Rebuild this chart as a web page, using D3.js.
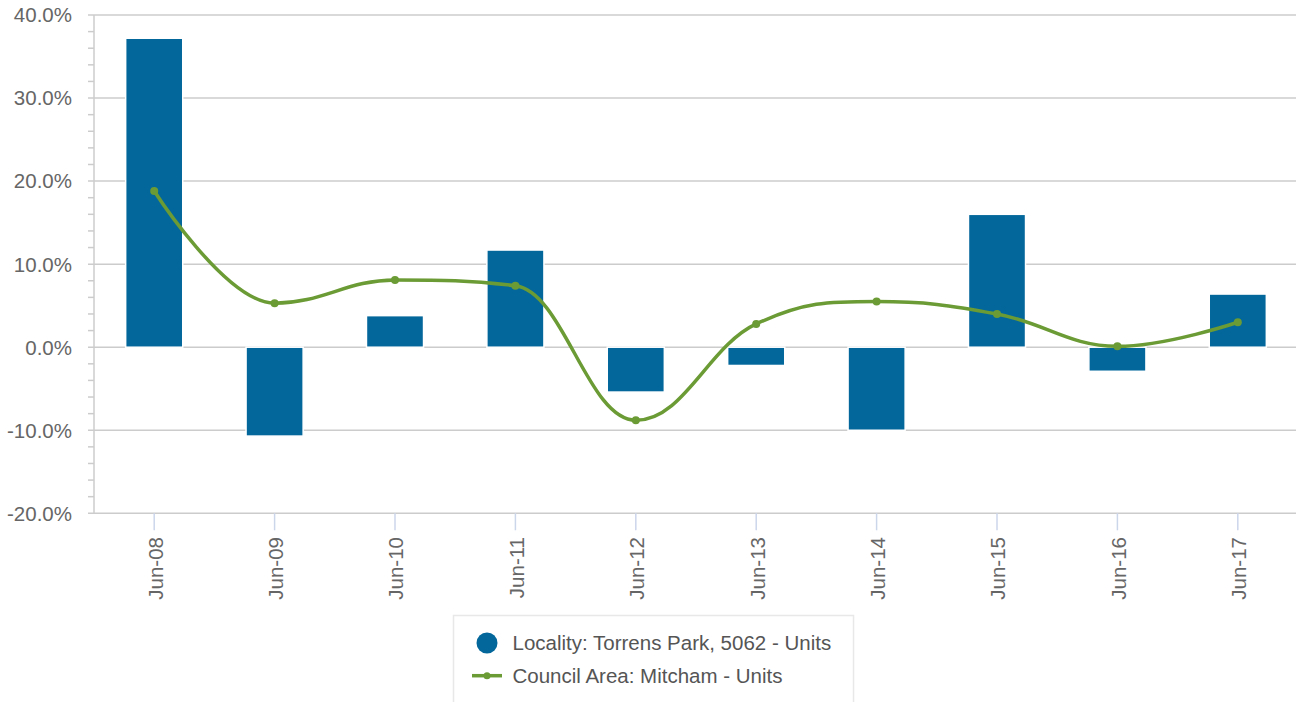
<!DOCTYPE html>
<html>
<head>
<meta charset="utf-8">
<script src="https://cdn.jsdelivr.net/npm/d3@7"></script>
<style>
  html, body { margin: 0; padding: 0; background: #fff; }
  svg { display: block; font-family: "Liberation Sans", Arial, sans-serif; }
</style>
</head>
<body>
<svg id="chart" width="1296" height="702"></svg>
<script>
const categories = ["Jun-08","Jun-09","Jun-10","Jun-11","Jun-12","Jun-13","Jun-14","Jun-15","Jun-16","Jun-17"];
const localityValues = [37.2, -10.7, 3.8, 11.7, -5.4, -2.2, -10.0, 16.0, -2.9, 6.4];
const councilValues = [18.8, 5.3, 8.1, 7.4, -8.8, 2.8, 5.5, 4.0, 0.1, 3.0];
const yTicks = [-20, -10, 0, 10, 20, 30, 40];
const seriesNames = ["Locality: Torrens Park, 5062 - Units", "Council Area: Mitcham - Units"];

const barColor = "#03679b";
const lineColor = "#6b9b34";
const gridColor = "#cccccc";
const textColor = "#666666";

const svg = d3.select("#chart");
const plot = { left: 94, right: 1298, top: 15, bottom: 513.3 };

const x = d3.scaleBand().domain(categories).range([plot.left, plot.right]).padding(0);
const y = d3.scaleLinear().domain([-20, 40]).range([plot.bottom, plot.top]);
const barW = x.bandwidth() * 0.474;
const cx = d => x(d) + x.bandwidth() / 2;

// gridlines
svg.append("g").selectAll("line").data(yTicks).join("line")
  .attr("x1", plot.left - 6).attr("x2", plot.right)
  .attr("y1", d => y(d)).attr("y2", d => y(d))
  .attr("stroke", gridColor).attr("stroke-width", 1.5);

// minor ticks
const minor = d3.range(-20, 40.01, 2).filter(v => Math.abs(v % 10) > 0.001);
svg.append("g").selectAll("line").data(minor).join("line")
  .attr("x1", plot.left - 6).attr("x2", plot.left)
  .attr("y1", d => y(d)).attr("y2", d => y(d))
  .attr("stroke", gridColor).attr("stroke-width", 1.5);

// y axis line
svg.append("line")
  .attr("x1", plot.left).attr("x2", plot.left)
  .attr("y1", plot.top).attr("y2", plot.bottom)
  .attr("stroke", gridColor).attr("stroke-width", 1.5);

// y labels
svg.append("g").selectAll("text").data(yTicks).join("text")
  .attr("x", 72).attr("y", d => y(d)).attr("dy", "0.36em")
  .attr("text-anchor", "end").attr("fill", textColor)
  .attr("font-size", "20.5px")
  .text(d => d.toFixed(1) + "%");

// x ticks
svg.append("g").selectAll("line").data(categories).join("line")
  .attr("x1", d => cx(d)).attr("x2", d => cx(d))
  .attr("y1", plot.bottom).attr("y2", plot.bottom + 17)
  .attr("stroke", "#ccd6eb").attr("stroke-width", 1.5);

// x labels
svg.append("g").selectAll("text").data(categories).join("text")
  .attr("transform", d => `translate(${cx(d) + 1},537) rotate(-90)`)
  .attr("dy", "0.36em")
  .attr("text-anchor", "end").attr("fill", textColor)
  .attr("font-size", "20.5px")
  .text(d => d);

// bars
svg.append("g").selectAll("rect").data(categories).join("rect")
  .attr("x", d => cx(d) - barW / 2)
  .attr("width", barW)
  .attr("y", (d, i) => y(Math.max(0, localityValues[i])))
  .attr("height", (d, i) => Math.abs(y(localityValues[i]) - y(0)))
  .attr("fill", barColor)
  .attr("stroke", "#ffffff").attr("stroke-width", 1.5);

// Highcharts-like spline
const pts = categories.map((c, i) => ({ x: cx(c), y: y(councilValues[i]) }));
function splinePath(points) {
  const p = d3.path();
  const s = 1.5, den = s + 1;
  let prevRight = null;
  points.forEach((pt, i) => {
    if (i === 0) { p.moveTo(pt.x, pt.y); return; }
    const last = points[i - 1], next = points[i + 1];
    let lcx = pt.x, lcy = pt.y, rc = null;
    if (next) {
      lcx = (s * pt.x + last.x) / den; lcy = (s * pt.y + last.y) / den;
      let rcx = (s * pt.x + next.x) / den, rcy = (s * pt.y + next.y) / den;
      let corr = 0;
      if (rcx !== lcx) corr = ((rcy - lcy) * (rcx - pt.x)) / (rcx - lcx) + pt.y - rcy;
      lcy += corr; rcy += corr;
      if (lcy > last.y && lcy > pt.y) { lcy = Math.max(last.y, pt.y); rcy = 2 * pt.y - lcy; }
      else if (lcy < last.y && lcy < pt.y) { lcy = Math.min(last.y, pt.y); rcy = 2 * pt.y - lcy; }
      if (rcy > next.y && rcy > pt.y) { rcy = Math.max(next.y, pt.y); lcy = 2 * pt.y - rcy; }
      else if (rcy < next.y && rcy < pt.y) { rcy = Math.min(next.y, pt.y); lcy = 2 * pt.y - rcy; }
      rc = { x: rcx, y: rcy };
    }
    const pr = prevRight || last;
    p.bezierCurveTo(pr.x, pr.y, lcx, lcy, pt.x, pt.y);
    prevRight = rc;
  });
  return p.toString();
}
svg.append("path")
  .attr("d", splinePath(pts))
  .attr("fill", "none").attr("stroke", lineColor)
  .attr("stroke-width", 3.5).attr("stroke-linejoin", "round").attr("stroke-linecap", "round");
svg.append("g").selectAll("circle").data(categories).join("circle")
  .attr("cx", d => cx(d)).attr("cy", (d, i) => y(councilValues[i]))
  .attr("r", 4).attr("fill", lineColor);

// legend
const lg = svg.append("g");
lg.append("rect").attr("x", 453.5).attr("y", 615.5).attr("width", 400).attr("height", 100)
  .attr("fill", "#fff").attr("stroke", "#e8e8e8").attr("stroke-width", 1.5);
lg.append("circle").attr("cx", 487).attr("cy", 643).attr("r", 10.5).attr("fill", barColor);
lg.append("line").attr("x1", 472).attr("x2", 502).attr("y1", 675.7).attr("y2", 675.7)
  .attr("stroke", lineColor).attr("stroke-width", 3.5);
lg.append("circle").attr("cx", 487).attr("cy", 675.7).attr("r", 3.5).attr("fill", lineColor);
lg.selectAll("text").data(seriesNames).join("text")
  .attr("x", 512.5).attr("y", (d, i) => [643, 675.7][i]).attr("dy", "0.36em")
  .attr("fill", "#555555").attr("font-size", "20.5px")
  .text(d => d);
</script>
</body>
</html>
